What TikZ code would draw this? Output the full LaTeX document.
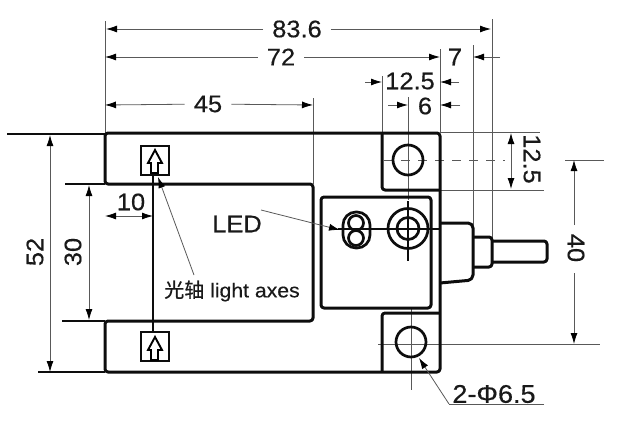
\documentclass[tikz,border=0pt]{standalone}
\usepackage{fontspec}
\setmainfont{Liberation Sans}
\newfontfamily\dimfont[FakeBold=0.4,FakeStretch=1.06]{Liberation Sans}
\newfontfamily\cjkfont[FakeBold=0.6]{Noto Sans CJK SC}
\usetikzlibrary{arrows.meta}
\tikzstyle{outline}=[line width=3pt,black!95,rounded corners=3pt,line join=round]
\tikzstyle{pen}=[line width=2.7pt,black!95]
\tikzstyle{thin}=[line width=0.8pt,black!65]
\tikzstyle{dimline}=[thin,-{Latex[length=11pt,width=7pt,black]}]
\tikzstyle{dimboth}=[thin,{Latex[length=11pt,width=7pt,black]}-{Latex[length=11pt,width=7pt,black]}]
\tikzstyle{label}=[inner xsep=9pt,inner ysep=0pt,font=\dimfont\fontsize{24}{24}\selectfont,black!90]
\tikzstyle{note}=[inner sep=0pt,font=\dimfont\fontsize{20}{20}\selectfont,black!90]
\begin{document}
\begin{tikzpicture}[x=1pt,y=-1pt]
      \useasboundingbox (0,0) rectangle (627,439);
      % extension lines
      \draw[thin] (105,21) -- (105,133);
      \draw[thin] (492,19) -- (492,238);
      \draw[thin] (440,49) -- (440,133);
      \draw[thin] (473,45) -- (473,230);
      \draw[thin] (382,76) -- (382,133);
      \draw[thin] (313,98) -- (313,184);
      \draw[thin] (408,97) -- (408,200);
      \draw[thin] (411,308) -- (411,390);
      \draw[thin] (440,132) -- (540,132);
      \draw[thin] (440,190) -- (544,190);
      \draw[thin] (565,160) -- (604,160);
      \draw[thin] (378,344) -- (600,344);
      \draw[thin,dash pattern=on 9pt off 8pt] (384,160) -- (505,160);
      % body
      \draw[pen] (7,134) -- (105,134);
      \draw[pen] (65,184) -- (105,184);
      \draw[pen] (62,321) -- (105,321);
      \draw[pen] (38,372) -- (105,372);
      \draw[outline] (105,321) -- (105,372) -- (440,372) -- (440,133) -- (105,133) -- (105,184) -- (313,184) -- (313,321) -- cycle;
      \draw[outline] (382,133) -- (382,190) -- (440,190);
      \draw[outline] (382,372) -- (382,313) -- (440,313);
      \draw[outline] (321,197) rectangle (431,308);
      % holes
      \draw[pen] (408,160) circle (15pt);
      \draw[pen] (411,342) circle (15pt);
      % lens and LED
      \draw[pen] (408,228.5) circle (20pt);
      \draw[pen] (408,228.5) circle (11pt);
      \draw[pen] (408,201) -- (408,261);
      \draw[pen] (338,229) -- (440,229);
      \draw[pen,rounded corners=13pt] (343,212) rectangle (370,248);
      \draw[pen] (356,223) circle (7.5pt);
      \draw[pen] (356,238) circle (7.5pt);
      % cable gland and cable
      \draw[outline,rounded corners=5pt] (440,223) -- (473,223) -- (473,280) -- (440,283);
      \draw[outline] (473,237) -- (492,237) -- (492,267) -- (473,267);
      \draw[outline] (492,241) -- (547,241) -- (547,262) -- (492,262);
      % light axis
      \draw[pen] (153,175) -- (153,333);
      \draw[pen,fill=white] (141,146) rectangle (169,175);
      \draw[pen,fill=white] (141,332) rectangle (169,361);
      \draw[line width=1.9pt,line join=miter] (155,150) -- (162,163) -- (158,163) -- (158,173) -- (151,173) -- (151,163) -- (148,163) -- cycle;
      \draw[line width=1.9pt,line join=miter] (155,337) -- (162,350) -- (158,350) -- (158,360) -- (151,360) -- (151,350) -- (148,350) -- cycle;
      % dimensions
      \node[label] at (297,29) (d836) {83.6};
      \draw[dimline] (d836) -- (106,29);
      \draw[dimline] (d836) -- (491,29);
      \node[label] at (281,57) (d72) {72};
      \draw[dimline] (d72) -- (105,57);
      \draw[dimline] (d72) -- (440,57);
      \node[label,inner xsep=3pt] at (455,57) (d7) {7};
      \draw[dimline] (500,57) -- (473,57);
      \node[label,inner xsep=2pt] at (410,81) (d125) {12.5};
      \draw[dimline] (365,82) -- (382,82);
      \draw[dimline] (459,82) -- (440,82);
      \node[label,inner xsep=5pt] at (425,106) (d6) {6};
      \draw[dimline] (388,105) -- (408,105);
      \draw[dimline] (460,105) -- (440,105);
      \node[label] at (208,104) (d45) {45};
      \draw[dimline] (d45) -- (105,105);
      \draw[dimline] (d45) -- (313,105);
      \node[label] at (131,202) (d10) {10};
      \draw[dimboth] (105,216) -- (153,216);
      \node[label,rotate=90] at (35,252) (d52) {52};
      \draw[dimboth] (50,135) -- (50,372);
      \node[label,rotate=90] at (73,252) (d30) {30};
      \draw[dimboth] (89,185) -- (89,320);
      \node[label,rotate=-90] at (532,159) (d125v) {12.5};
      \draw[dimboth] (511,133) -- (511,189);
      \node[label,rotate=-90] at (576,248) (d40) {40};
      \draw[dimline] (574,225) -- (574,160);
      \draw[dimline] (574,273) -- (574,344);
      % notes
      \node[label,inner xsep=0pt] at (237,224) (led) {LED};
      \draw[dimline] (261,210) -- (340,230);
      \node[note] at (232,291) (axes) {{\cjkfont 光轴} light axes};
      \draw[dimline] (194,275) -- (158,177);
      \node[label,inner xsep=0pt,font=\dimfont\fontsize{25.5}{25.5}\selectfont] at (494,394) (hole) {2-Φ6.5};
      \coordinate (bend) at (449,404);
      \draw[thin] (544,404) -- (bend);
      \draw[dimline] (bend) -- (419,358);
    \end{tikzpicture}
\end{document}
